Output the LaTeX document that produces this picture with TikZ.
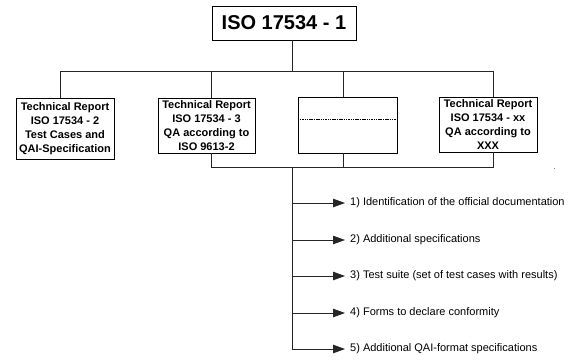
\documentclass[tikz,border=0pt]{standalone}
\usepackage{fontspec}
\setmainfont{Liberation Sans}
\usetikzlibrary{arrows.meta}
\begin{document}
\begin{tikzpicture}[x=1pt,y=-1pt,
  box/.style={draw=black,line width=0.8pt,inner sep=0pt,align=center,
    font=\fontsize{11}{14}\selectfont\bfseries},
  conn/.style={draw=black!85,line width=0.8pt},
  arr/.style={conn,-{Triangle[length=12pt,width=8.5pt]}},
  lbl/.style={anchor=west,inner sep=0pt,font=\fontsize{11}{13}\selectfont}]
\useasboundingbox (0,0) rectangle (570,359);
% boxes
\node[box,minimum width=144pt,minimum height=34pt,font=\fontsize{20}{24}\selectfont\bfseries] (top) at (284,23) {ISO 17534 - 1};
\node[box,minimum width=98pt,minimum height=61pt] (b1) at (65,128.5) {Technical Report\\ISO 17534 - 2\\Test Cases and\\QAI-Specification};
\node[box,minimum width=97pt,minimum height=55pt] (b2) at (206.5,125.5) {Technical Report\\ISO 17534 - 3\\QA according to\\ISO 9613-2};
\node[box,minimum width=99pt,minimum height=56pt] (b3) at (347.5,125) {};
\node[box,minimum width=98pt,minimum height=55pt] (b4) at (488,124.5) {Technical Report\\ISO 17534 - xx\\QA according to\\XXX};
\draw[black,line width=0.7pt,dash pattern=on 1.5pt off 0.8pt] (b3.west |- 0,119) -- (b3.east |- 0,119);
% junction coordinates
\coordinate (j0) at (292,71);
\coordinate (x1) at (60,71);
\coordinate (x2) at (211,71);
\coordinate (x3) at (343,71);
\coordinate (x4) at (493,71);
\coordinate (k0) at (292,167);
\coordinate (k2) at (211,167);
\coordinate (k3) at (343,167);
\coordinate (k4) at (493,167);
% top tree
\draw[conn] (top.south -| j0) -- (j0);
\draw[conn] (x1) -- (x4);
\draw[conn] (x1) -- (b1.north -| x1);
\draw[conn] (x2) -- (b2.north -| x2);
\draw[conn] (x3) -- (b3.north -| x3);
\draw[conn] (x4) -- (b4.north -| x4);
% bottom tree
\draw[conn] (b2.south -| k2) -- (k2) -- (k4) -- (b4.south -| k4);
\draw[conn] (b3.south -| k3) -- (k3);
% labels
\node[lbl] (l1) at (350,203) {1) Identification of the official documentation};
\node[lbl] (l2) at (350,240) {2) Additional specifications};
\node[lbl] (l3) at (350,276) {3) Test suite (set of test cases with results)};
\node[lbl] (l4) at (350,313) {4) Forms to declare conformity};
\node[lbl] (l5) at (350,349) {5) Additional QAI-format specifications};
\coordinate (t5) at (292,349);
\draw[conn] (k0) -- (t5);
\foreach \i in {1,...,5} {
  \draw[arr] (l\i.west -| k0) -- ([xshift=-5pt]l\i.west);
}
% stray dot
\fill[black!50] (553.5,167.5) rectangle (555,169);
\end{tikzpicture}
\end{document}
